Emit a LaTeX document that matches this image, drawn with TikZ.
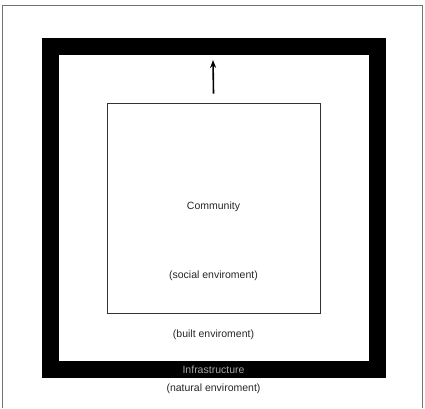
\documentclass[tikz,border=0pt]{standalone}
\usepackage{fontspec}
\setmainfont{Liberation Sans}
\usetikzlibrary{arrows.meta}
\tikzset{
  lbl/.style={font=\fontsize{10.5}{12}\selectfont, inner sep=0pt, text=black!85},
  framebox/.style={draw=black, line width=17pt, minimum width=327pt, minimum height=322.5pt, inner sep=0pt},
  socialbox/.style={draw=black!80, line width=0.9pt, minimum width=213pt, minimum height=210pt, inner sep=0pt},
  uparrow/.style={-{Stealth[length=8pt,width=6pt]}, line width=1.6pt}
}
\begin{document}
\begin{tikzpicture}[x=1pt,y=-1pt]
\useasboundingbox (0,0) rectangle (425,408);
% outer (natural environment) frame, cut at bottom
\coordinate (nbl) at (2,408);
\coordinate (ntl) at (2,5);
\coordinate (ntr) at (422.5,5);
\coordinate (nbr) at (422.5,408);
\draw[black!55, line width=1pt] (nbl) -- (ntl) -- (ntr) -- (nbr);
% infrastructure frame
\node[framebox] (infra) at (213.5,207.75) {};
% community box
\node[socialbox] (social) at (213.5,208) {};
% arrow
\coordinate (arrtop) at (213,60);
\draw[uparrow] ([yshift=9pt]social.north) -- (arrtop);
% labels
\node[lbl] (community) at (213.5,207) {Community};
\node[lbl] (soc) at (213.5,276) {(social enviroment)};
\node[lbl] (built) at (213.5,335) {(built enviroment)};
\node[lbl, text=black!35] (infratext) at (213.5,369.5) {Infrastructure};
\node[lbl] (natural) at (213.5,388.5) {(natural enviroment)};
\end{tikzpicture}
\end{document}
